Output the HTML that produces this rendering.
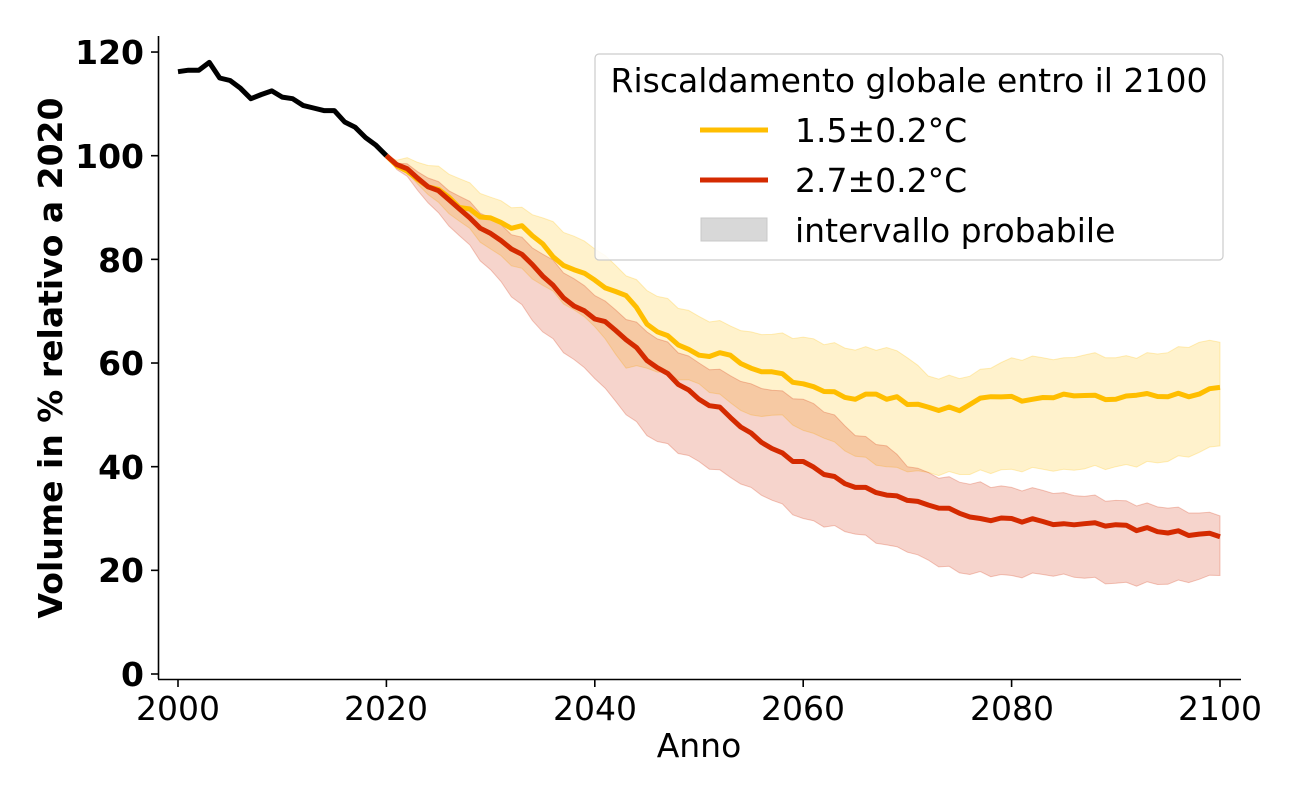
<!DOCTYPE html>
<html><head><meta charset="utf-8"><style>
body{margin:0;background:#fff;}
svg{display:block;font-family:"DejaVu Sans","Liberation Sans",sans-serif;}
</style></head><body>
<svg id="s" width="1300" height="800" viewBox="0 0 1300 800">
<g id="plot"></g>
<g stroke="#000" stroke-width="1.6" fill="none">
<line x1="158.5" y1="36" x2="158.5" y2="679"/>
<line x1="158" y1="679.5" x2="1241" y2="679.5"/>
</g>
<g stroke="#000" stroke-width="1.6" id="ticks"></g>
<g font-size="33" font-weight="bold" text-anchor="end" fill="#000">
<text x="144" y="686">0</text>
<text x="144" y="582">20</text>
<text x="144" y="479">40</text>
<text x="144" y="375">60</text>
<text x="144" y="272">80</text>
<text x="144" y="168">100</text>
<text x="144" y="64">120</text>
</g>
<g font-size="33" text-anchor="middle" fill="#000">
<text x="178" y="720">2000</text>
<text x="386" y="720">2020</text>
<text x="595" y="720">2040</text>
<text x="803" y="720">2060</text>
<text x="1012" y="720">2080</text>
<text x="1220" y="720">2100</text>
<text x="699" y="757">Anno</text>
</g>
<text transform="translate(62,358) rotate(-90)" font-size="33" font-weight="bold" text-anchor="middle">Volume in % relativo a 2020</text>
<rect x="595" y="54" width="628" height="206" rx="4" fill="#fff" fill-opacity="0.85" stroke="#ccc" stroke-width="1.2"/>
<text x="909" y="92" font-size="33" text-anchor="middle">Riscaldamento globale entro il 2100</text>
<line x1="700" y1="130" x2="768" y2="130" stroke="#ffbe00" stroke-width="5"/>
<line x1="700" y1="180" x2="768" y2="180" stroke="#d42a00" stroke-width="5"/>
<rect x="701" y="218" width="66" height="23" fill="#d8d8d8" stroke="#c8c8c8"/>
<g font-size="33"><text x="795" y="142">1.5±0.2°C</text><text x="795" y="192">2.7±0.2°C</text><text x="795" y="242">intervallo probabile</text></g>
</svg>
<script>
function X(t){return 178+(t-2000)*10.42}
function Y(v){return 674-v*5.183}
function interp(pts){var o=[];for(var i=0;i<pts.length-1;i++){var a=pts[i],b=pts[i+1];for(var t=a[0];t<b[0];t++){o.push([t,a[1]+(b[1]-a[1])*(t-a[0])/(b[0]-a[0])+ (t>a[0]?(Math.sin(t*2.3)*0.5):0)]);}}o.push(pts[pts.length-1]);return o}
function line(p){return p.map(function(q,i){return (i?'L':'M')+X(q[0]).toFixed(1)+' '+Y(q[1]).toFixed(1)}).join('')}
function band(u,l){var a=interp(u),b=interp(l).reverse();return line(a)+b.map(function(q){return 'L'+X(q[0]).toFixed(1)+' '+Y(q[1]).toFixed(1)}).join('')+'Z'}
var blk=[[2000,116.2],[2001,116.5],[2002,116.5],[2003,118],[2004,115],[2005,114.5],[2006,113],[2007,111],[2008,111.8],[2009,112.5],[2010,111.3],[2011,111],[2012,109.7],[2013,109.2],[2014,108.7],[2015,108.7],[2016,106.5],[2017,105.5],[2018,103.5],[2019,102],[2020,100]];
var ym=[[2020,100],[2022,97],[2024,94],[2026,92],[2027,90],[2030,88],[2032,86],[2033,86.5],[2035,83],[2036,80.5],[2038,78],[2040,76],[2041,74.5],[2043,73],[2045,67.5],[2048,63.5],[2050,61.5],[2052,62],[2053,61.5],[2055,59],[2057,58.3],[2060,56],[2062,54.5],[2065,53],[2067,54],[2068,53],[2069,53.5],[2070,52],[2072,51.5],[2075,50.8],[2076,52],[2078,53.5],[2082,53],[2085,54],[2088,53.8],[2090,53],[2092,53.8],[2095,53.5],[2098,54],[2100,55.3]];
var yu=[[2020,100],[2025,98],[2030,92],[2035,88],[2040,82],[2045,74],[2050,69],[2055,66],[2060,65],[2065,62.5],[2068,63],[2070,61],[2072,57.5],[2075,57],[2078,59],[2080,61],[2085,61],[2088,62],[2090,61],[2095,62],[2098,64],[2100,64]];
var yl=[[2020,100],[2025,91],[2030,82],[2035,75],[2040,67],[2043,59],[2045,59],[2050,56],[2055,50],[2058,50],[2060,47],[2062,45.5],[2065,42],[2068,40],[2070,39],[2075,38.5],[2080,39.5],[2085,39.5],[2090,40],[2095,41],[2100,44]];
var rm=[[2020,100],[2022,97.5],[2024,94],[2026,91.5],[2028,88],[2030,85],[2032,82],[2034,79],[2036,75],[2038,71],[2040,68.5],[2041,68],[2043,64.5],[2045,60.5],[2047,58],[2050,53],[2052,51.5],[2053,49.5],[2055,46.5],[2057,43.5],[2059,41],[2060,41],[2062,38.5],[2065,36],[2067,35],[2070,33.5],[2073,32],[2075,31],[2077,30],[2080,30],[2085,29],[2088,29.2],[2090,28.8],[2095,27.2],[2098,27],[2100,26.5]];
var ru=[[2020,100],[2025,95],[2030,88],[2035,81],[2040,73],[2045,66],[2050,60],[2055,56],[2060,53],[2063,50],[2065,46],[2068,44],[2070,40],[2075,37],[2080,36],[2085,35],[2090,33.5],[2095,32],[2100,30.5]];
var rl=[[2020,100],[2025,89],[2030,78],[2035,66],[2040,57],[2045,46],[2050,41],[2055,36],[2060,30],[2065,27],[2070,23.5],[2075,19.5],[2080,19],[2085,19.3],[2090,17.5],[2095,17.3],[2100,19]];
var g=document.getElementById('plot');
g.innerHTML='<path d="'+band(yu,yl)+'" fill="#ffc000" fill-opacity="0.2" stroke="#ffc000" stroke-opacity="0.25"/>'+
'<path d="'+band(ru,rl)+'" fill="#d42a00" fill-opacity="0.2" stroke="#d42a00" stroke-opacity="0.25"/>'+
'<path d="'+line(blk)+'" fill="none" stroke="#000" stroke-width="5" stroke-linejoin="round"/>'+
'<path d="'+line(interp(ym))+'" fill="none" stroke="#ffbe00" stroke-width="5" stroke-linejoin="round"/>'+
'<path d="'+line(interp(rm))+'" fill="none" stroke="#d42a00" stroke-width="5" stroke-linejoin="round"/>';
var t='';[0,20,40,60,80,100,120].forEach(function(v){t+='<line x1="151" x2="158" y1="'+Y(v)+'" y2="'+Y(v)+'"/>'});
[2000,2020,2040,2060,2080,2100].forEach(function(v){t+='<line y1="680" y2="687" x1="'+X(v)+'" x2="'+X(v)+'"/>'});
document.getElementById('ticks').innerHTML=t;
</script>
</body></html>
